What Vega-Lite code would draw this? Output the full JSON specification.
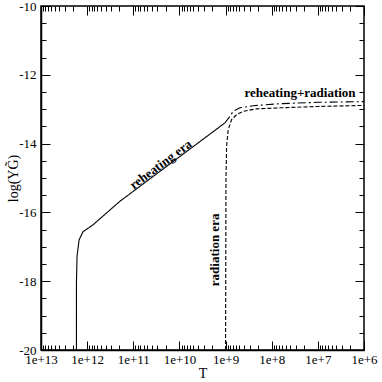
{
  "$schema": "https://vega.github.io/schema/vega-lite/v6.json",
  "width": 323,
  "height": 344,
  "autosize": "none",
  "padding": {"left": 41, "top": 6, "right": 18, "bottom": 32},
  "background": "white",
  "config": {
    "view": {"stroke": "black", "strokeWidth": 1.5},
    "axis": {
      "labelFont": "Liberation Serif",
      "labelFontSize": 13,
      "labelColor": "black",
      "titleFont": "Liberation Serif",
      "titleFontSize": 14,
      "titleFontWeight": "normal",
      "titleColor": "black",
      "domainColor": "black",
      "domainWidth": 1.5,
      "tickColor": "black",
      "tickWidth": 1,
      "grid": false
    }
  },
  "datasets": {
    "curves": [
      {"s": "reheating", "T": 1.707e12, "Y": -20},
      {"s": "reheating", "T": 1.705e12, "Y": -18.05},
      {"s": "reheating", "T": 1.656e12, "Y": -17.28},
      {"s": "reheating", "T": 1.496e12, "Y": -16.8},
      {"s": "reheating", "T": 1.227e12, "Y": -16.56},
      {"s": "reheating", "T": 7.45e11, "Y": -16.36},
      {"s": "reheating", "T": 1.963e11, "Y": -15.68},
      {"s": "reheating", "T": 3.16e10, "Y": -14.885},
      {"s": "reheating", "T": 1.035e9, "Y": -13.4},
      {"s": "radiation", "T": 1.0e9, "Y": -20},
      {"s": "radiation", "T": 9.8e8, "Y": -15},
      {"s": "radiation", "T": 9.5e8, "Y": -14.08},
      {"s": "radiation", "T": 8.79e8, "Y": -13.6},
      {"s": "radiation", "T": 7.41e8, "Y": -13.3},
      {"s": "radiation", "T": 5.77e8, "Y": -13.16},
      {"s": "radiation", "T": 4.15e8, "Y": -13.06},
      {"s": "radiation", "T": 2.13e8, "Y": -12.99},
      {"s": "radiation", "T": 6.64e7, "Y": -12.96},
      {"s": "radiation", "T": 1e7, "Y": -12.92},
      {"s": "radiation", "T": 1e6, "Y": -12.89},
      {"s": "both", "T": 1.035e9, "Y": -13.4},
      {"s": "both", "T": 8.07e8, "Y": -13.21},
      {"s": "both", "T": 6.84e8, "Y": -13.06},
      {"s": "both", "T": 4.9e8, "Y": -12.96},
      {"s": "both", "T": 2.52e8, "Y": -12.9},
      {"s": "both", "T": 6.64e7, "Y": -12.84},
      {"s": "both", "T": 1e7, "Y": -12.8},
      {"s": "both", "T": 1e6, "Y": -12.78}
    ],
    "notes": [
      {"name": "a", "label": "reheating era", "T": 2.53e10, "Y": -14.61},
      {"name": "b", "label": "radiation era", "T": 1.71e9, "Y": -17.09},
      {"name": "c", "label": "reheating+radiation", "T": 2.44e7, "Y": -12.52}
    ]
  },
  "resolve": {"axis": {"x": "independent", "y": "independent"}},
  "layer": [
    {
      "data": {"name": "curves"},
      "mark": {"type": "line", "color": "black", "strokeWidth": 1.1},
      "encoding": {
        "x": {
          "field": "T", "type": "quantitative",
          "scale": {"type": "log", "domain": [1e6, 1e13], "reverse": true, "nice": false},
          "axis": {
            "orient": "bottom",
            "title": "T",
            "titlePadding": -4,
            "labelFont": "Liberation Serif",
            "titleFont": "Liberation Serif",
            "values": [1e6,2e6,3e6,4e6,5e6,6e6,7e6,8e6,9e6,1e7,2e7,3e7,4e7,5e7,6e7,7e7,8e7,9e7,1e8,2e8,3e8,4e8,5e8,6e8,7e8,8e8,9e8,1e9,2e9,3e9,4e9,5e9,6e9,7e9,8e9,9e9,1e10,2e10,3e10,4e10,5e10,6e10,7e10,8e10,9e10,1e11,2e11,3e11,4e11,5e11,6e11,7e11,8e11,9e11,1e12,2e12,3e12,4e12,5e12,6e12,7e12,8e12,9e12,1e13],
            "labelExpr": "abs(log(datum.value)/LN10 - round(log(datum.value)/LN10)) < 0.001 ? format(datum.value, '.0e') : ''",
            "tickSize": {"condition": {"test": "abs(log(datum.value)/LN10 - round(log(datum.value)/LN10)) < 0.001", "value": -9}, "value": -5},
            "labelPadding": 12,
            "labelOverlap": false,
            "labelFlush": false
          }
        },
        "y": {
          "field": "Y", "type": "quantitative",
          "scale": {"domain": [-20, -10], "nice": false, "zero": false},
          "axis": {
            "orient": "left",
            "title": "log(YG̃)",
            "titlePadding": -2,
            "labelFont": "Liberation Serif",
            "titleFont": "Liberation Serif",
            "values": [-20,-19.5,-19,-18.5,-18,-17.5,-17,-16.5,-16,-15.5,-15,-14.5,-14,-13.5,-13,-12.5,-12,-11.5,-11,-10.5,-10],
            "labelExpr": "datum.value % 2 == 0 ? '' + datum.value : ''",
            "tickSize": {"condition": {"test": "datum.value % 2 == 0", "value": -9}, "value": -5},
            "labelPadding": 14,
            "labelOverlap": false,
            "labelFlush": false
          }
        },
        "strokeDash": {
          "field": "s", "type": "nominal",
          "scale": {"domain": ["reheating", "radiation", "both"], "range": [[1, 0], [4, 2], [8, 3, 2, 3]]},
          "legend": null
        }
      }
    },
    {
      "data": {"name": "notes"},
      "transform": [{"filter": "datum.name == 'a'"}],
      "mark": {"type": "text", "font": "Liberation Serif", "fontWeight": "bold", "fontSize": 13, "angle": 323.3, "color": "black"},
      "encoding": {
        "x": {"field": "T", "type": "quantitative", "scale": {"type": "log", "domain": [1e6, 1e13], "reverse": true, "nice": false},
          "axis": {
            "orient": "top", "title": null, "labels": false, "domain": false,
            "values": [1e6,2e6,3e6,4e6,5e6,6e6,7e6,8e6,9e6,1e7,2e7,3e7,4e7,5e7,6e7,7e7,8e7,9e7,1e8,2e8,3e8,4e8,5e8,6e8,7e8,8e8,9e8,1e9,2e9,3e9,4e9,5e9,6e9,7e9,8e9,9e9,1e10,2e10,3e10,4e10,5e10,6e10,7e10,8e10,9e10,1e11,2e11,3e11,4e11,5e11,6e11,7e11,8e11,9e11,1e12,2e12,3e12,4e12,5e12,6e12,7e12,8e12,9e12,1e13],
            "tickSize": {"condition": {"test": "abs(log(datum.value)/LN10 - round(log(datum.value)/LN10)) < 0.001", "value": -9}, "value": -5}
          }},
        "y": {"field": "Y", "type": "quantitative", "scale": {"domain": [-20, -10], "nice": false, "zero": false},
          "axis": {
            "orient": "right", "title": null, "labels": false, "domain": false,
            "values": [-20,-19.5,-19,-18.5,-18,-17.5,-17,-16.5,-16,-15.5,-15,-14.5,-14,-13.5,-13,-12.5,-12,-11.5,-11,-10.5,-10],
            "tickSize": {"condition": {"test": "datum.value % 2 == 0", "value": -9}, "value": -5}
          }},
        "text": {"field": "label"}
      }
    },
    {
      "data": {"name": "notes"},
      "transform": [{"filter": "datum.name == 'b'"}],
      "mark": {"type": "text", "font": "Liberation Serif", "fontWeight": "bold", "fontSize": 13, "angle": 270, "color": "black"},
      "encoding": {
        "x": {"field": "T", "type": "quantitative", "scale": {"type": "log", "domain": [1e6, 1e13], "reverse": true, "nice": false}, "axis": null},
        "y": {"field": "Y", "type": "quantitative", "scale": {"domain": [-20, -10], "nice": false, "zero": false}, "axis": null},
        "text": {"field": "label"}
      }
    },
    {
      "data": {"name": "notes"},
      "transform": [{"filter": "datum.name == 'c'"}],
      "mark": {"type": "text", "font": "Liberation Serif", "fontWeight": "bold", "fontSize": 13, "color": "black"},
      "encoding": {
        "x": {"field": "T", "type": "quantitative", "scale": {"type": "log", "domain": [1e6, 1e13], "reverse": true, "nice": false}, "axis": null},
        "y": {"field": "Y", "type": "quantitative", "scale": {"domain": [-20, -10], "nice": false, "zero": false}, "axis": null},
        "text": {"field": "label"}
      }
    }
  ]
}
